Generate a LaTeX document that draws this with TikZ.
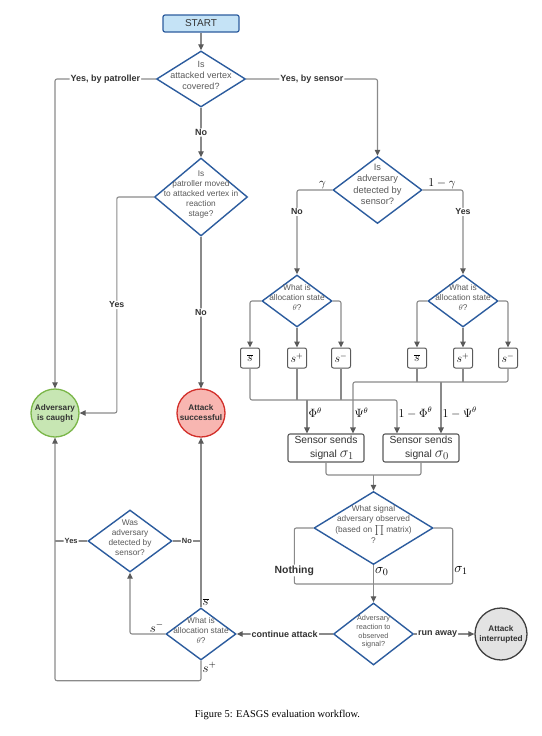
\RequirePackage{fix-cm}
\documentclass[tikz,border=0pt]{standalone}
\usepackage{fontspec}
\setmainfont{Liberation Sans}
\newfontfamily\capfont{Liberation Serif}
\usetikzlibrary{shapes.geometric,arrows.meta}

\definecolor{qblue}{HTML}{2C5C9E}
\definecolor{startfill}{HTML}{C5E3F6}
\definecolor{okfill}{HTML}{C7E6B3}
\definecolor{okline}{HTML}{7AB648}
\definecolor{badfill}{HTML}{F8B6B1}
\definecolor{badline}{HTML}{D22F2A}
\definecolor{endfill}{HTML}{E3E3E3}
\definecolor{endline}{HTML}{404040}
\definecolor{wire}{HTML}{8A8A8A}
\definecolor{tipc}{HTML}{5A5A5A}
\definecolor{qtxt}{HTML}{5A5A5A}
\definecolor{ltxt}{HTML}{333333}

% text of a diamond, kept out of the shape size
\newcommand{\qtext}[1]{\makebox[0pt]{\smash{\begin{tabular}{@{}c@{}}#1\end{tabular}}}}

\tikzset{
  question/.style={diamond, draw=qblue, line width=1.4pt, fill=white, inner sep=0pt,
    text=qtxt, font=\fontsize{8.3}{10}\selectfont},
  startbox/.style={rectangle, rounded corners=2pt, draw=qblue, line width=1.2pt, fill=startfill,
    minimum width=76pt, minimum height=17pt, inner sep=0pt, text=ltxt, font=\fontsize{10}{12}\selectfont},
  endstate/.style={circle, minimum size=48pt, inner sep=0pt, line width=1.3pt, align=center,
    text=ltxt, font=\bfseries\fontsize{8.2}{10}\selectfont},
  statebox/.style={rectangle, rounded corners=2pt, draw=tipc, line width=1pt, fill=white,
    minimum width=19pt, minimum height=20pt, inner sep=0pt, font=\fontsize{12}{14}\selectfont},
  sigbox/.style={rectangle, rounded corners=2pt, draw=tipc, line width=1.1pt, fill=white,
    minimum width=76pt, minimum height=28pt, inner sep=0pt, align=center, text=ltxt,
    font=\fontsize{10.3}{11}\selectfont},
  link/.style={draw=wire, line width=1.1pt, rounded corners=2pt},
  arr/.style={link, -{Triangle[length=6pt,width=5.5pt,color=tipc]}},
  elab/.style={fill=white, inner sep=1pt, text=ltxt, font=\bfseries\fontsize{9}{10}\selectfont},
  slab/.style={elab, font=\bfseries\fontsize{7.5}{9}\selectfont},
  mlab/.style={inner sep=1pt, font=\fontsize{12}{14}\selectfont}
}

\begin{document}
\begin{tikzpicture}[x=1pt,y=-1pt]
\useasboundingbox (0,0) rectangle (541,736);

% nodes
\node[startbox] (start) at (201,23.5) {START};
\node[question, minimum width=89pt, minimum height=56pt, font=\fontsize{9}{11}\selectfont] (q1) at (201,79)
  {\qtext{Is\\attacked vertex\\covered?}};
\node[question, minimum width=93pt, minimum height=78pt] (q2) at (201,197)
  {\qtext{Is\\patroller moved\\to attacked vertex in\\reaction\\stage?}};
\node[question, minimum width=89pt, minimum height=67pt, font=\fontsize{9.3}{11.5}\selectfont] (q3) at (377.5,190)
  {\raisebox{5pt}{\qtext{Is\\adversary\\detected by\\sensor?}}};
\node[question, minimum width=70pt, minimum height=52pt] (q4) at (297,301)
  {\qtext{What is\\allocation state\\$\theta$?}};
\node[question, minimum width=70pt, minimum height=52pt] (q5) at (463,301)
  {\qtext{What is\\allocation state\\$\theta$?}};

\node[statebox] (sb1) at (250,358) {$\overline{s}$};
\node[statebox] (sp1) at (297,358) {$s^{+}$};
\node[statebox] (sm1) at (341,358) {$s^{-}$};
\node[statebox] (sb2) at (417,358) {$\overline{s}$};
\node[statebox] (sp2) at (463,358) {$s^{+}$};
\node[statebox] (sm2) at (508,358) {$s^{-}$};

\node[sigbox] (sig1) at (326,448) {Sensor sends\\[2.5pt]\hspace*{12pt}signal {\fontsize{15}{15}\selectfont$\sigma_1$}};
\node[sigbox] (sig0) at (421,448) {Sensor sends\\[2.5pt]\hspace*{12pt}signal {\fontsize{15}{15}\selectfont$\sigma_0$}};

\node[endstate, draw=okline, fill=okfill] (caught) at (55,413) {Adversary\\is caught};
\node[endstate, draw=badline, fill=badfill] (succ) at (201,413) {Attack\\successful};

\node[question, minimum width=119pt, minimum height=73pt] (q6) at (373.5,528)
  {\qtext{What signal\\adversary observed\\[1pt](based on $\prod$ matrix)\\[1pt]?}};
\node[question, minimum width=80pt, minimum height=62pt, font=\fontsize{7.3}{8.7}\selectfont] (q7) at (373.5,634)
  {\qtext{Adversary\\reaction to\\observed\\signal?}};
\node[endstate, draw=endline, fill=endfill, minimum size=52pt] (attint) at (501,634) {Attack\\interrupted};
\node[question, minimum width=70pt, minimum height=52pt] (q8) at (201,634)
  {\qtext{What is\\allocation state\\$\theta$?}};
\node[question, minimum width=84pt, minimum height=62pt] (q9) at (130,541)
  {\qtext{Was\\adversary\\detected by\\sensor?}};

\coordinate (busL) at (0,400);
\coordinate (busR) at (0,382);
\coordinate (phi1) at ([xshift=-19pt]sig1.north);
\coordinate (psi1) at ([xshift=27pt]sig1.north);
\coordinate (phi0) at ([xshift=-24pt]sig0.north);
\coordinate (psi0) at ([xshift=20pt]sig0.north);
\coordinate (sj) at (373.5,475);
\coordinate (sj2) at (373.5,584);

% top part
\draw[arr] (start) -- (q1);
\draw[arr] (q1.west) -| node[elab,pos=0.25]{Yes, by patroller} (caught.north);
\draw[arr] (q1.east) -| node[elab,pos=0.25]{Yes, by sensor} (q3.north);
\draw[arr] (q1.south) -- node[elab]{No} (q2.north);
\draw[arr] (q2.west) -- ++(-37,0) |- node[elab,pos=0.25,font=\bfseries\fontsize{8.8}{10}\selectfont]{Yes} (caught.east);
\draw[arr] (q2.south) -- node[elab,font=\bfseries\fontsize{8.8}{10}\selectfont]{No} (succ.north);

% sensor branch
\draw[arr] (q3.west) -| node[mlab,pos=0.14,above]{$\gamma$}
  node[elab,pos=0.63,font=\bfseries\fontsize{8.8}{10}\selectfont]{No} (q4.north);
\draw[arr] (q3.east) -| node[mlab,pos=0.24,above]{$1-\gamma$}
  node[elab,pos=0.63,font=\bfseries\fontsize{8.8}{10}\selectfont]{Yes} (q5.north);
\draw[arr] (q4.west) -| (sb1.north);
\draw[arr] (q4.south) -- (sp1.north);
\draw[arr] (q4.east) -| (sm1.north);
\draw[arr] (q5.west) -| (sb2.north);
\draw[arr] (q5.south) -- (sp2.north);
\draw[arr] (q5.east) -| (sm2.north);

\draw[arr] (sb1.south) |- (busL -| phi0) -- node[mlab,pos=0.38,right]{$1-\Phi^{\theta}$} (phi0);
\draw[link] (sp1.south) -- (sp1.south |- busL);
\draw[link] (sm1.south) -- (sm1.south |- busL);
\draw[arr] (busL -| phi1) -- node[mlab,pos=0.38,right]{$\Phi^{\theta}$} (phi1);
\draw[arr] (sm2.south) |- (busR -| psi1) -- node[mlab,pos=0.6,right]{$\Psi^{\theta}$} (psi1);
\draw[link] (sb2.south) -- (sb2.south |- busR);
\draw[link] (sp2.south) -- (sp2.south |- busR);
\draw[arr] (busR -| psi0) -- node[mlab,pos=0.6,right]{$1-\Psi^{\theta}$} (psi0);

\draw[link] (sig1.south) |- (sj) -| (sig0.south);
\draw[arr] (sj) -- (q6.north);

% signal observed
\draw[link] (q6.west) -- ++(-19,0) |- node[elab,pos=0.38,font=\bfseries\fontsize{10.4}{12}\selectfont]{Nothing} (sj2);
\draw[link] (q6.east) -- ++(19,0) |- node[mlab,pos=0.38,right,font=\fontsize{14}{16}\selectfont]{$\sigma_1$} (sj2);
\draw[arr] (q6.south) -- node[mlab,pos=0.16,right,font=\fontsize{14}{16}\selectfont]{$\sigma_0$} (q7.north);
\draw[arr] (q7.east) -- node[elab,pos=0.39]{run away} (attint.west);
\draw[arr] (q7.west) -- node[elab]{continue attack} (q8.east);

% bottom loop
\draw[arr] (q8.north) node[mlab,anchor=south west,font=\fontsize{13}{15}\selectfont]{$\overline{s}$} -- (succ.south);
\draw[arr] (q8.west) node[mlab,anchor=south east,font=\fontsize{13}{15}\selectfont]{$s^{-}$} -| (q9.south);
\draw[arr] (q8.south) node[mlab,anchor=north west,font=\fontsize{13}{15}\selectfont]{$s^{+}$} -- ++(0,20) -| (caught.south);
\draw[link] (q9.east) -- node[slab]{No} (q9.east -| q8.north);
\draw[link] (q9.west) -- node[slab]{Yes} (q9.west -| caught.south);

\node[font=\capfont\fontsize{10.4}{12}\selectfont] (cap) at (277.5,715) {Figure 5: EASGS evaluation workflow.};
\end{tikzpicture}
\end{document}
